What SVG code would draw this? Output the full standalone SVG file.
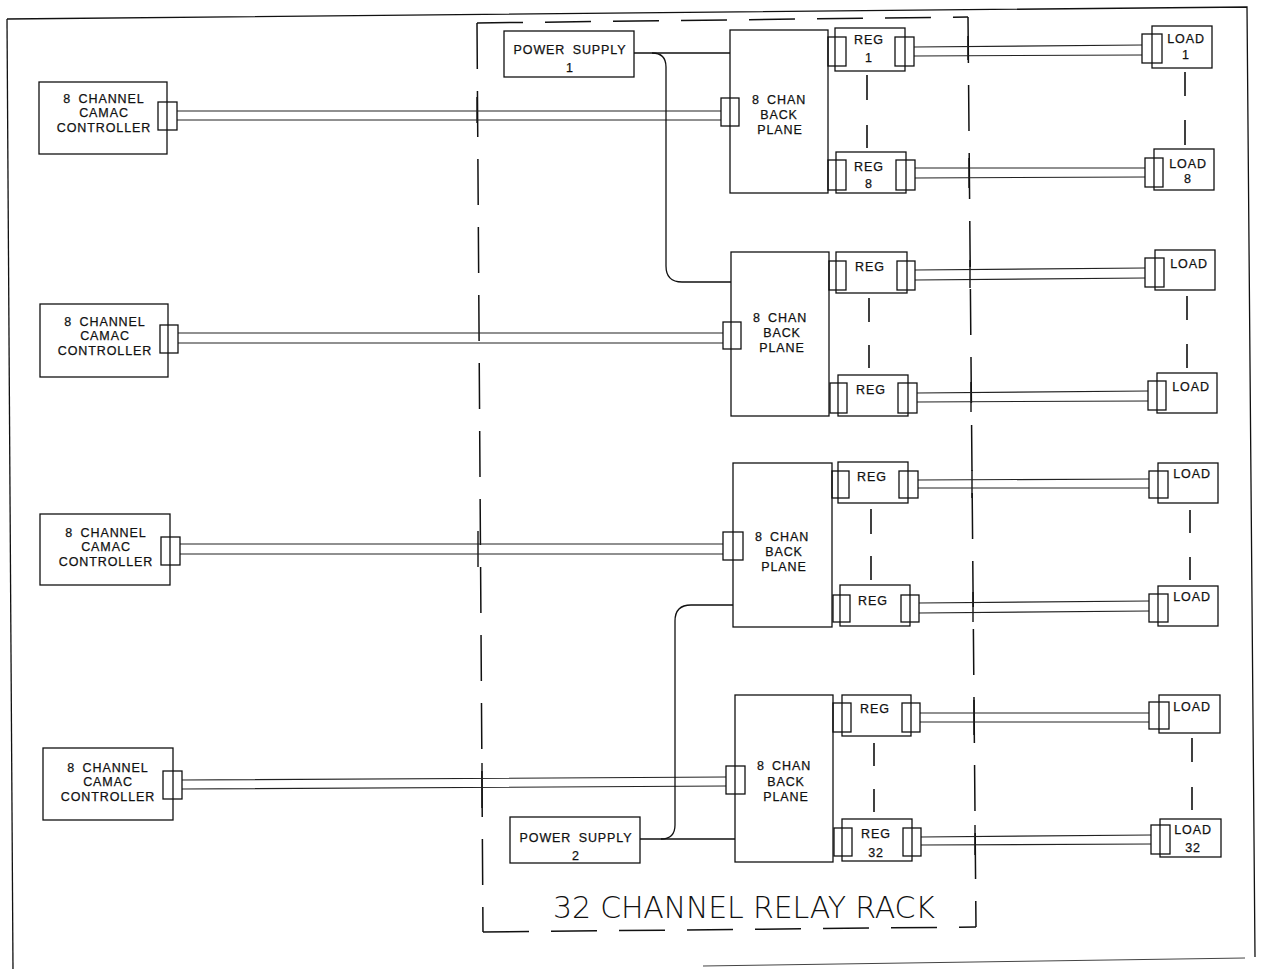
<svg xmlns="http://www.w3.org/2000/svg" width="1264" height="969" viewBox="0 0 1264 969">
<style>
.b{fill:none;stroke:#111;stroke-width:1.3}
.k{fill:none;stroke:#111;stroke-width:1.4}
.w{fill:none;stroke:#222;stroke-width:1.1}
.r{fill:none;stroke:#111;stroke-width:1.5;stroke-dasharray:46 22}
.d{fill:none;stroke:#111;stroke-width:1.6}
.t{font-family:"Liberation Sans",Arial,sans-serif;font-size:12.5px;letter-spacing:0.9px;word-spacing:3px;text-anchor:middle;fill:#111;stroke:#111;stroke-width:0.25}
.ttl{font-family:"DejaVu Sans","Liberation Sans",sans-serif;font-size:30px;font-weight:200;fill:#111}
</style>
<rect width="1264" height="969" fill="#fff"/>

<g id="frame">
<path class="b" d="M7 19 L1247 7 L1255 957"/>
<path class="b" d="M7 19 L13 969"/>
<path fill="none" stroke="#444" stroke-width="1" d="M703 966 L1245 958"/>
</g>

<g id="rack">
<path class="r" d="M477 23 L968 17"/>
<path class="r" d="M477 23 L483 932"/>
<path class="r" d="M483 932 L976 927"/>
<path class="r" d="M968 17 L976 927"/>
<path class="k" d="M477 97 L477 123 M478 531 L478 567 M482 763 L482 808"/>
<path class="k" d="M968 36 L968 60 M969 158 L969 188 M970 260 L970 288 M971 382 L971 412 M972 470 L972 498 M973 592 L973 622 M974 700 L974 735 M975 825 L975 855"/>
<text class="ttl" x="553" y="918" textLength="382" lengthAdjust="spacing">32 CHANNEL RELAY RACK</text>
</g>

<g id="connectors">
<path class="w" d="M177 111 L721 111 M177 120 L721 120"/>
<path class="w" d="M178 333 L723 333 M178 343 L723 343"/>
<path class="w" d="M180 544 L723 544 M180 554 L723 554"/>
<path class="w" d="M182 780 L726 777 M182 789 L726 786"/>
<path class="b" d="M634 53 L730 53"/>
<path class="b" d="M652 53 Q666 53 666 67 L666 266 Q666 282 682 282 L731 282"/>
<path class="b" d="M733 605 L691 605 Q675 605 675 621 L675 825 Q675 839 661 839"/>
<path class="b" d="M640 839 L735 839"/>
<path class="w" d="M914 47 L1142 45 M914 56 L1142 55"/>
<path class="w" d="M915 168 L1145 168 M915 178 L1145 177"/>
<path class="w" d="M915 270 L1145 268 M915 280 L1145 278"/>
<path class="w" d="M917 393 L1148 391 M917 402 L1148 401"/>
<path class="w" d="M918 480 L1149 479 M918 488 L1149 488"/>
<path class="w" d="M919 603 L1149 601 M919 613 L1149 611"/>
<path class="w" d="M920 713 L1149 713 M920 722 L1149 722"/>
<path class="w" d="M921 837 L1151 835 M921 845 L1151 844"/>
<path class="d" d="M867 75 L867 100 M867 125 L867 148"/>
<path class="d" d="M869 298 L869 322 M869 345 L869 368"/>
<path class="d" d="M871 509 L871 534 M871 556 L871 580"/>
<path class="d" d="M874 743 L874 766 M874 789 L874 812"/>
<path class="d" d="M1185 72 L1185 96 M1185 120 L1185 145"/>
<path class="d" d="M1187 296 L1187 320 M1187 344 L1187 368"/>
<path class="d" d="M1190 510 L1190 533 M1190 557 L1190 580"/>
<path class="d" d="M1192 738 L1192 762 M1192 787 L1192 810"/>
</g>

<g id="controller1">
<rect class="b" x="39" y="82" width="128" height="72"/>
<rect class="b" x="158" y="102" width="19" height="28"/>
<text class="t" x="104" y="103">8 CHANNEL</text>
<text class="t" x="104" y="117">CAMAC</text>
<text class="t" x="104" y="132">CONTROLLER</text>
</g>
<g id="controller2">
<rect class="b" x="40" y="304" width="128" height="73"/>
<rect class="b" x="160" y="325" width="18" height="28"/>
<text class="t" x="105" y="326">8 CHANNEL</text>
<text class="t" x="105" y="340">CAMAC</text>
<text class="t" x="105" y="355">CONTROLLER</text>
</g>
<g id="controller3">
<rect class="b" x="40" y="514" width="130" height="71"/>
<rect class="b" x="161" y="537" width="19" height="28"/>
<text class="t" x="106" y="537">8 CHANNEL</text>
<text class="t" x="106" y="551">CAMAC</text>
<text class="t" x="106" y="566">CONTROLLER</text>
</g>
<g id="controller4">
<rect class="b" x="43" y="748" width="130" height="72"/>
<rect class="b" x="163" y="771" width="19" height="28"/>
<text class="t" x="108" y="772">8 CHANNEL</text>
<text class="t" x="108" y="786">CAMAC</text>
<text class="t" x="108" y="801">CONTROLLER</text>
</g>

<g id="powersupply1">
<rect class="b" x="504" y="31" width="130" height="46"/>
<text class="t" x="570" y="54">POWER SUPPLY</text>
<text class="t" x="570" y="72">1</text>
</g>
<g id="powersupply2">
<rect class="b" x="510" y="817" width="130" height="46"/>
<text class="t" x="576" y="842">POWER SUPPLY</text>
<text class="t" x="576" y="860">2</text>
</g>

<g id="backplane1">
<rect class="b" x="730" y="30" width="98" height="163"/>
<rect class="b" x="721" y="98" width="18" height="28"/>
<text class="t" x="779" y="104">8 CHAN</text>
<text class="t" x="779" y="119">BACK</text>
<text class="t" x="780" y="134">PLANE</text>
</g>
<g id="backplane2">
<rect class="b" x="731" y="252" width="98" height="164"/>
<rect class="b" x="723" y="322" width="18" height="27"/>
<text class="t" x="780" y="322">8 CHAN</text>
<text class="t" x="782" y="337">BACK</text>
<text class="t" x="782" y="352">PLANE</text>
</g>
<g id="backplane3">
<rect class="b" x="733" y="463" width="99" height="164"/>
<rect class="b" x="723" y="532" width="20" height="28"/>
<text class="t" x="782" y="541">8 CHAN</text>
<text class="t" x="784" y="556">BACK</text>
<text class="t" x="784" y="571">PLANE</text>
</g>
<g id="backplane4">
<rect class="b" x="735" y="695" width="98" height="167"/>
<rect class="b" x="726" y="766" width="19" height="28"/>
<text class="t" x="784" y="770">8 CHAN</text>
<text class="t" x="786" y="786">BACK</text>
<text class="t" x="786" y="801">PLANE</text>
</g>

<g id="reg1">
<rect class="b" x="835" y="28" width="70" height="43"/>
<rect class="b" x="828" y="37" width="18" height="29"/>
<rect class="b" x="895" y="37" width="19" height="29"/>
<text class="t" x="869" y="44">REG</text>
<text class="t" x="869" y="62">1</text>
</g>
<g id="reg8">
<rect class="b" x="836" y="152" width="70" height="41"/>
<rect class="b" x="828" y="160" width="18" height="30"/>
<rect class="b" x="896" y="160" width="19" height="30"/>
<text class="t" x="869" y="171">REG</text>
<text class="t" x="869" y="188">8</text>
</g>
<g id="reg9">
<rect class="b" x="836" y="252" width="71" height="41"/>
<rect class="b" x="829" y="261" width="17" height="29"/>
<rect class="b" x="897" y="261" width="18" height="29"/>
<text class="t" x="870" y="271">REG</text>
</g>
<g id="reg16">
<rect class="b" x="838" y="375" width="70" height="41"/>
<rect class="b" x="830" y="383" width="17" height="30"/>
<rect class="b" x="898" y="383" width="19" height="30"/>
<text class="t" x="871" y="394">REG</text>
</g>
<g id="reg17">
<rect class="b" x="838" y="462" width="70" height="41"/>
<rect class="b" x="832" y="471" width="17" height="27"/>
<rect class="b" x="899" y="471" width="19" height="27"/>
<text class="t" x="872" y="481">REG</text>
</g>
<g id="reg24">
<rect class="b" x="840" y="585" width="70" height="41"/>
<rect class="b" x="833" y="595" width="17" height="27"/>
<rect class="b" x="901" y="595" width="18" height="27"/>
<text class="t" x="873" y="605">REG</text>
</g>
<g id="reg25">
<rect class="b" x="842" y="695" width="69" height="41"/>
<rect class="b" x="833" y="703" width="18" height="29"/>
<rect class="b" x="902" y="703" width="18" height="29"/>
<text class="t" x="875" y="713">REG</text>
</g>
<g id="reg32">
<rect class="b" x="842" y="819" width="70" height="42"/>
<rect class="b" x="834" y="828" width="18" height="28"/>
<rect class="b" x="903" y="828" width="18" height="28"/>
<text class="t" x="876" y="838">REG</text>
<text class="t" x="876" y="857">32</text>
</g>

<g id="load1">
<rect class="b" x="1152" y="26" width="60" height="42"/>
<rect class="b" x="1142" y="34" width="20" height="29"/>
<text class="t" x="1186" y="43">LOAD</text>
<text class="t" x="1186" y="59">1</text>
</g>
<g id="load8">
<rect class="b" x="1154" y="149" width="60" height="41"/>
<rect class="b" x="1145" y="158" width="18" height="29"/>
<text class="t" x="1188" y="168">LOAD</text>
<text class="t" x="1188" y="183">8</text>
</g>
<g id="load9">
<rect class="b" x="1155" y="250" width="60" height="40"/>
<rect class="b" x="1145" y="258" width="19" height="29"/>
<text class="t" x="1189" y="268">LOAD</text>
</g>
<g id="load16">
<rect class="b" x="1157" y="373" width="60" height="40"/>
<rect class="b" x="1148" y="381" width="18" height="29"/>
<text class="t" x="1191" y="391">LOAD</text>
</g>
<g id="load17">
<rect class="b" x="1158" y="463" width="60" height="40"/>
<rect class="b" x="1149" y="471" width="19" height="27"/>
<text class="t" x="1192" y="478">LOAD</text>
</g>
<g id="load24">
<rect class="b" x="1158" y="586" width="60" height="40"/>
<rect class="b" x="1149" y="594" width="19" height="28"/>
<text class="t" x="1192" y="601">LOAD</text>
</g>
<g id="load25">
<rect class="b" x="1159" y="695" width="61" height="38"/>
<rect class="b" x="1149" y="702" width="20" height="27"/>
<text class="t" x="1192" y="711">LOAD</text>
</g>
<g id="load32">
<rect class="b" x="1160" y="819" width="61" height="38"/>
<rect class="b" x="1151" y="825" width="19" height="29"/>
<text class="t" x="1193" y="834">LOAD</text>
<text class="t" x="1193" y="852">32</text>
</g>
</svg>
